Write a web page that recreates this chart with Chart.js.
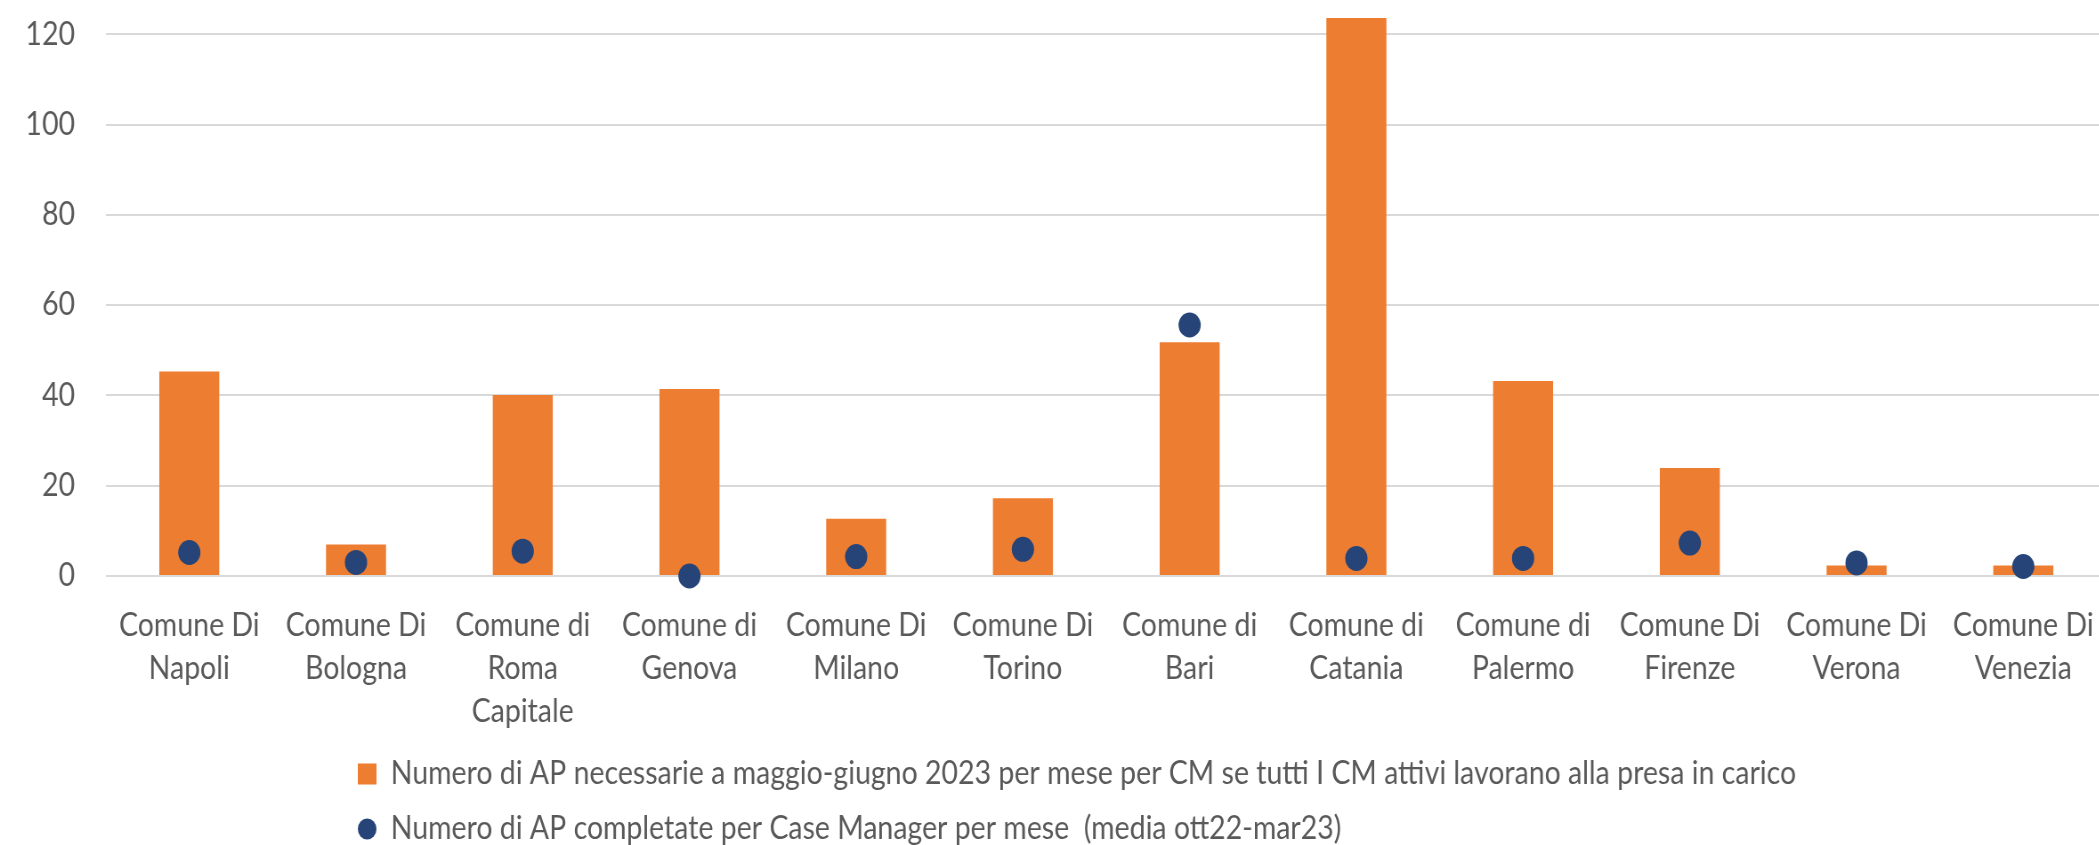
<!DOCTYPE html>
<html>
<head>
<meta charset="utf-8">
<script src="https://cdn.jsdelivr.net/npm/chart.js@4.4.0/dist/chart.umd.min.js"></script>
<style>
  html, body { margin: 0; padding: 0; background: #fff; overflow: hidden; }
  /* the reference is horizontally squeezed: draw wider, then compress */
  #wrap { width: 2367px; height: 855px; transform: scaleX(0.89); transform-origin: 0 0; }
</style>
</head>
<body>
<div id="wrap"><canvas id="chart"></canvas></div>
<script>
const labels = [
    ['Comune Di', 'Napoli'], ['Comune Di', 'Bologna'], ['Comune di', 'Roma', 'Capitale'], ['Comune di', 'Genova'],
    ['Comune Di', 'Milano'], ['Comune Di', 'Torino'], ['Comune di', 'Bari'], ['Comune di', 'Catania'],
    ['Comune di', 'Palermo'], ['Comune Di', 'Firenze'], ['Comune Di', 'Verona'], ['Comune Di', 'Venezia']
];
const necessarie = [45.3, 7.0, 40.1, 41.4, 12.7, 17.2, 51.8, 123.6, 43.2, 23.9, 2.3, 2.3];
const completate = [5.2, 3.0, 5.5, 0.0, 4.3, 5.9, 55.6, 3.9, 3.9, 7.3, 2.9, 2.1];
const seriesNames = [
    'Numero di AP necessarie a maggio-giugno 2023 per mese per CM se tutti I CM attivi lavorano alla presa in carico',
    'Numero di AP completate per Case Manager per mese  (media ott22-mar23)'
];
const yTicks = { min: 0, max: 127.6, step: 20 };

const textColor = '#595959';
const font = { family: 'Lato', size: 32, lineHeight: 43 / 32 };

// legend rows are left-aligned at the same x as in the original
const legendShift = {
    id: 'legendShift',
    afterLayout(chart) { chart.legend.left = 379; }
};

new Chart(document.getElementById('chart'), {
    data: {
        labels: labels,
        datasets: [
            { type: 'bar', label: seriesNames[0], data: necessarie, backgroundColor: '#ED7D31', borderWidth: 0,
              barPercentage: 0.36, categoryPercentage: 1, order: 2 },
            { type: 'line', label: seriesNames[1], data: completate, showLine: false, borderWidth: 0,
              borderColor: '#264478', backgroundColor: '#264478', pointBackgroundColor: '#264478',
              pointBorderWidth: 0, pointRadius: 12.5, clip: false, order: 1 }
        ]
    },
    options: {
        responsive: true, maintainAspectRatio: false, animation: false,
        layout: { padding: 0, autoPadding: false },
        plugins: {
            tooltip: { enabled: false },
            legend: {
                position: 'bottom', align: 'start',
                labels: {
                    color: textColor, font: font, boxWidth: 21, boxHeight: 21, padding: 23,
                    generateLabels(chart) {
                        const items = Chart.defaults.plugins.legend.labels.generateLabels(chart);
                        items.sort((a, b) => a.datasetIndex - b.datasetIndex);
                        items.forEach(it => { it.lineWidth = 0; if (it.datasetIndex === 1) it.borderRadius = 10.5; });
                        return items;
                    }
                }
            }
        },
        scales: {
            x: {
                grid: { display: false, drawTicks: false }, border: { display: false },
                ticks: { color: textColor, font: font, padding: 28.5, maxRotation: 0, autoSkip: false },
                afterFit(scale) { scale.height = 159; scale.paddingLeft = 0; scale.paddingRight = 0; }
            },
            y: {
                min: yTicks.min, max: yTicks.max,
                grid: { color: '#d9d9d9', lineWidth: 2, drawTicks: false }, border: { display: false },
                ticks: { stepSize: yTicks.step, includeBounds: false, color: textColor, font: font, padding: 34.7 },
                afterFit(scale) { scale.width = 119; scale.paddingTop = 0; }
            }
        }
    },
    plugins: [legendShift]
});
</script>
</body>
</html>
